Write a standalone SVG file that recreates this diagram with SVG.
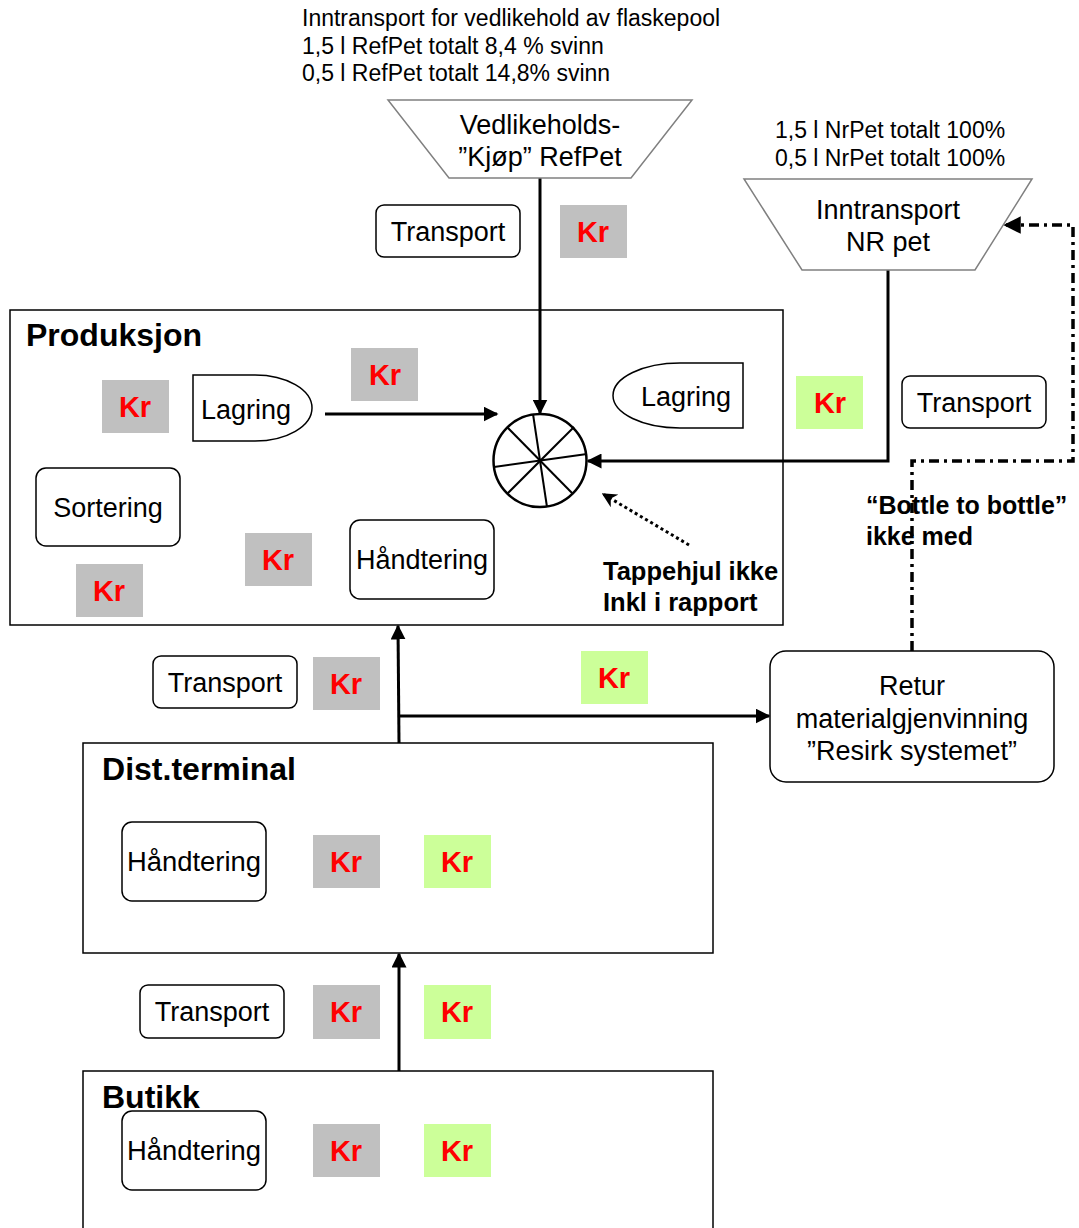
<svg xmlns="http://www.w3.org/2000/svg" width="1079" height="1228" viewBox="0 0 1079 1228">
<defs>
<style>
.t{font-family:"Liberation Sans",Arial,sans-serif;fill:#000}
.n{font-size:27px}
.s{font-size:23px}
.b{font-weight:bold}
.kr{font-family:"Liberation Sans",Arial,sans-serif;font-weight:bold;font-size:29px;fill:#FF0000;text-anchor:middle}
.g{fill:#C0C0C0}
.lg{fill:#CCFF99}
.box{fill:#fff;stroke:#000;stroke-width:1.5}
.frame{fill:none;stroke:#000;stroke-width:1.5}
.trap{fill:#fff;stroke:#808080;stroke-width:1.5}
.line{fill:none;stroke:#000;stroke-width:3}
</style>
<marker id="ah" viewBox="0 0 10 10" refX="9" refY="5" markerWidth="5" markerHeight="5" orient="auto" markerUnits="strokeWidth"><path d="M0,0 L10,5 L0,10 z" fill="#000"/></marker>
<marker id="ah3" viewBox="0 0 10 10" refX="9" refY="5" markerWidth="5" markerHeight="5" orient="auto" markerUnits="strokeWidth"><path d="M0,0 L10,5 L0,10 L3,5 z" fill="#000"/></marker>
</defs>
<rect width="1079" height="1228" fill="#fff"/>

<g id="header-text">
<text class="t s" x="302" y="26">Inntransport for vedlikehold av flaskepool</text>
<text class="t s" x="302" y="54">1,5 l RefPet totalt 8,4 % svinn</text>
<text class="t s" x="302" y="81">0,5 l RefPet totalt 14,8% svinn</text>
<text class="t s" x="775" y="138">1,5 l NrPet totalt 100%</text>
<text class="t s" x="775" y="166">0,5 l NrPet totalt 100%</text>
</g>

<g id="produksjon">
<rect class="frame" x="10" y="310" width="773" height="315"/>
<text class="t b" x="26" y="346" font-size="32">Produksjon</text>
</g>
<g id="dist-terminal">
<rect class="frame" x="83" y="743" width="630" height="210"/>
<text class="t b" x="102" y="780" font-size="32" textLength="194" lengthAdjust="spacingAndGlyphs">Dist.terminal</text>
</g>
<g id="butikk">
<rect class="frame" x="83" y="1071" width="630" height="170"/>
<text class="t b" x="102" y="1108" font-size="32">Butikk</text>
</g>

<g id="connectors">
<line class="line" x1="540" y1="178" x2="540" y2="413" stroke-width="2.5" marker-end="url(#ah)"/>
<polyline class="line" points="888,270 888,461 588,461" stroke-width="4" marker-end="url(#ah)"/>
<line class="line" x1="325" y1="414" x2="497" y2="414" marker-end="url(#ah)"/>
<line x1="689" y1="545" x2="603" y2="494" stroke="#000" stroke-width="3" stroke-dasharray="3,3" marker-end="url(#ah3)"/>
<polyline points="912,651 912,461 1073,461 1073,225 1005,225" fill="none" stroke="#000" stroke-width="3.5" stroke-dasharray="10,5,3,5" marker-end="url(#ah)"/>
<line class="line" x1="399" y1="743" x2="398" y2="626" marker-end="url(#ah)"/>
<line class="line" x1="399" y1="716" x2="769" y2="716" marker-end="url(#ah)"/>
<line class="line" x1="399" y1="1071" x2="399" y2="954" marker-end="url(#ah)"/>
</g>

<g id="vedlikeholds-kjop">
<polygon class="trap" points="388,100 692,100 631,178 449,178"/>
<text class="t n" x="540" y="134" text-anchor="middle">Vedlikeholds-</text>
<text class="t n" x="540" y="166" text-anchor="middle">”Kjøp” RefPet</text>
</g>
<g id="inntransport-nr-pet">
<polygon class="trap" points="744,179 1032,179 975,270 802,270"/>
<text class="t n" x="888" y="219" text-anchor="middle">Inntransport</text>
<text class="t n" x="888" y="251" text-anchor="middle">NR pet</text>
</g>

<g id="transport-top">
<rect class="box" x="376" y="205" width="144" height="52" rx="8"/>
<text class="t n" x="448" y="241" text-anchor="middle">Transport</text>
</g>
<g id="kr-top"><rect class="g" x="560" y="205" width="67" height="53"/><text class="kr" x="593" y="242">Kr</text></g>

<g id="lagring-left">
<path class="box" d="M193,375 L255,375 A57,33 0 0 1 255,441 L193,441 Z"/>
<text class="t n" x="246" y="419" text-anchor="middle">Lagring</text>
</g>
<g id="lagring-right">
<path class="box" d="M743,363 L743,428 L680,428 A67,32.5 0 0 1 680,363 Z"/>
<text class="t n" x="686" y="406" text-anchor="middle">Lagring</text>
</g>
<g id="kr-p1"><rect class="g" x="102" y="380" width="67" height="53"/><text class="kr" x="135" y="417">Kr</text></g>
<g id="kr-p2"><rect class="g" x="351" y="348" width="67" height="53"/><text class="kr" x="385" y="385">Kr</text></g>
<g id="kr-p3"><rect class="g" x="245" y="533" width="67" height="53"/><text class="kr" x="278" y="570">Kr</text></g>
<g id="kr-p4"><rect class="g" x="76" y="564" width="67" height="53"/><text class="kr" x="109" y="601">Kr</text></g>
<g id="kr-green-right"><rect class="lg" x="796" y="376" width="67" height="53"/><text class="kr" x="830" y="413">Kr</text></g>

<g id="tappehjul">
<circle cx="540" cy="460.5" r="46.5" fill="#fff" stroke="#000" stroke-width="2.5"/>
<g stroke="#000" stroke-width="2">
<line x1="533" y1="414" x2="547" y2="507"/>
<line x1="494" y1="467" x2="587" y2="454"/>
<line x1="507" y1="427" x2="573" y2="494"/>
<line x1="574" y1="427" x2="507" y2="494"/>
</g>
</g>

<g id="transport-right">
<rect class="box" x="902" y="376" width="144" height="52" rx="8"/>
<text class="t n" x="974" y="412" text-anchor="middle">Transport</text>
</g>
<g id="sortering">
<rect class="box" x="36" y="468" width="144" height="78" rx="10"/>
<text class="t n" x="108" y="517" text-anchor="middle">Sortering</text>
</g>
<g id="handtering-prod">
<rect class="box" x="350" y="520" width="144" height="79" rx="10"/>
<text class="t n" x="422" y="569" text-anchor="middle">Håndtering</text>
</g>

<g id="tappehjul-label">
<text class="t b" x="603" y="580" font-size="25.5">Tappehjul ikke</text>
<text class="t b" x="603" y="611" font-size="25.5">Inkl i rapport</text>
</g>
<g id="bottle-label">
<text class="t b" x="866" y="514" font-size="25">“Bottle to bottle”</text>
<text class="t b" x="866" y="545" font-size="25">ikke med</text>
</g>

<g id="transport-mid">
<rect class="box" x="153" y="656" width="144" height="52" rx="8"/>
<text class="t n" x="225" y="692" text-anchor="middle">Transport</text>
</g>
<g id="kr-m1"><rect class="g" x="313" y="657" width="67" height="53"/><text class="kr" x="346" y="694">Kr</text></g>
<g id="kr-m2"><rect class="lg" x="581" y="651" width="67" height="53"/><text class="kr" x="614" y="688">Kr</text></g>

<g id="retur">
<rect class="box" x="770" y="651" width="284" height="131" rx="16"/>
<text class="t n" x="912" y="695" text-anchor="middle">Retur</text>
<text class="t n" x="912" y="728" text-anchor="middle">materialgjenvinning</text>
<text class="t n" x="912" y="760" text-anchor="middle">”Resirk systemet”</text>
</g>

<g id="handtering-dist">
<rect class="box" x="122" y="822" width="144" height="79" rx="10"/>
<text class="t n" x="194" y="871" text-anchor="middle" textLength="134" lengthAdjust="spacingAndGlyphs">Håndtering</text>
</g>
<g id="kr-d1"><rect class="g" x="313" y="835" width="67" height="53"/><text class="kr" x="346" y="872">Kr</text></g>
<g id="kr-d2"><rect class="lg" x="424" y="835" width="67" height="53"/><text class="kr" x="457" y="872">Kr</text></g>

<g id="transport-low">
<rect class="box" x="140" y="985" width="144" height="53" rx="8"/>
<text class="t n" x="212" y="1021" text-anchor="middle">Transport</text>
</g>
<g id="kr-l1"><rect class="g" x="313" y="985" width="67" height="54"/><text class="kr" x="346" y="1022">Kr</text></g>
<g id="kr-l2"><rect class="lg" x="424" y="985" width="67" height="54"/><text class="kr" x="457" y="1022">Kr</text></g>

<g id="handtering-butikk">
<rect class="box" x="122" y="1111" width="144" height="79" rx="10"/>
<text class="t n" x="194" y="1160" text-anchor="middle" textLength="134" lengthAdjust="spacingAndGlyphs">Håndtering</text>
</g>
<g id="kr-b1"><rect class="g" x="313" y="1124" width="67" height="53"/><text class="kr" x="346" y="1161">Kr</text></g>
<g id="kr-b2"><rect class="lg" x="424" y="1124" width="67" height="53"/><text class="kr" x="457" y="1161">Kr</text></g>
</svg>
